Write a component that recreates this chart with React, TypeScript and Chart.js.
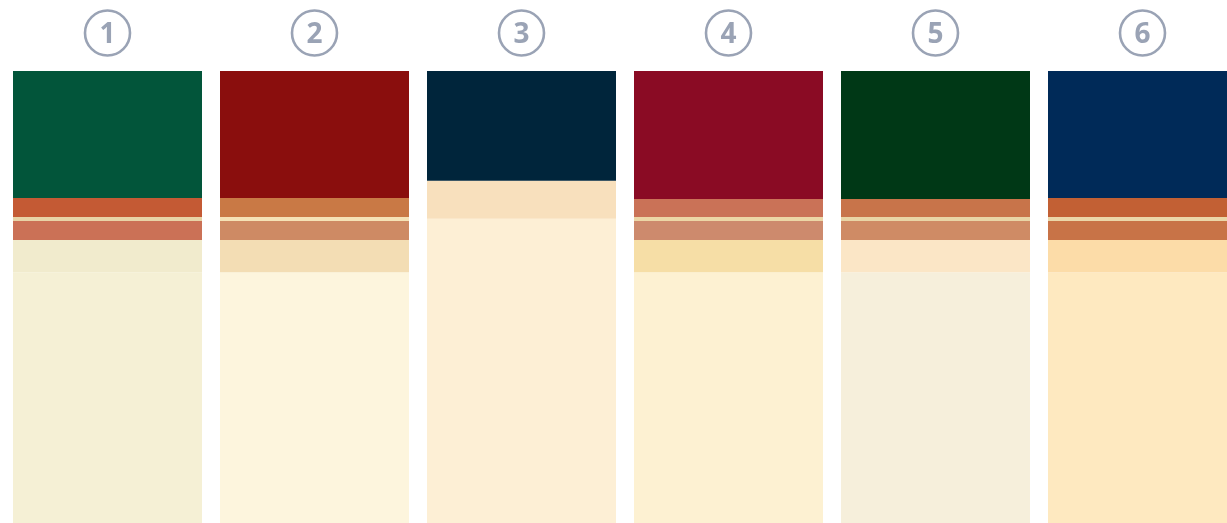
import React, { useEffect, useRef } from "react";
import { Chart, registerables } from "chart.js";

Chart.register(...registerables);

const categories = ["1", "2", "3", "4", "5", "6"];

// segment sizes (percent of column height), stacked from top to bottom
const darkTone = [28.1, 28.1, 24.3, 28.3, 28.3, 28.1];
const accent = [4.2, 4.2, 8.4, 4.0, 4.0, 4.2];
const divider = [0.9, 0.9, 0, 0.9, 0.9, 0.9];
const secondary = [4.2, 4.2, 0, 4.2, 4.2, 4.2];
const light = [7.1, 7.1, 0, 7.1, 7.1, 7.1];
const base = [55.5, 55.5, 67.3, 55.5, 55.5, 55.5];

const darkColors = ["#02553a", "#8a0e0d", "#00253b", "#8a0b24", "#003816", "#002a58"];
const accentColors = ["#c45a34", "#c97945", "#f8e0bd", "#ca7257", "#c8744a", "#c26034"];
const dividerColors = ["#e8d3a6", "#f5e2b6", "#f5e2b6", "#ecd6a6", "#e9d5a6", "#ebd6a8"];
const secondaryColors = ["#cb7156", "#ce8a64", "#ce8a64", "#cd8a6d", "#cf8b65", "#c87347"];
const lightColors = ["#f1ebcd", "#f3ddb4", "#f3ddb4", "#f6dea6", "#fbe6c6", "#fcdca8"];
const baseColors = ["#f5f0d5", "#fdf5dd", "#fdefd5", "#fdf1d2", "#f6efdb", "#fee9c0"];

const labelColor = "#9aa3b5";

const circledLabels = {
  id: "circledLabels",
  afterDraw(chart: any) {
    const { ctx } = chart;
    const xScale = chart.scales.x;
    ctx.save();
    categories.forEach((c, i) => {
      const x = xScale.getPixelForValue(i);
      ctx.beginPath();
      ctx.arc(x, 33, 22.5, 0, Math.PI * 2);
      ctx.strokeStyle = labelColor;
      ctx.lineWidth = 2.6;
      ctx.stroke();
      ctx.fillStyle = labelColor;
      ctx.font = "bold 28px 'Open Sans', sans-serif";
      ctx.textAlign = "center";
      ctx.textBaseline = "alphabetic";
      ctx.fillText(c, x, 43);
    });
    ctx.restore();
  },
};

export default function App() {
  const ref = useRef<HTMLCanvasElement | null>(null);
  useEffect(() => {
    if (!ref.current) return;
    const mk = (label: string, data: number[], colors: string[]) => ({
      label,
      data,
      backgroundColor: colors,
      borderWidth: 0,
      barPercentage: 1,
      categoryPercentage: 189 / 207,
    });
    const chart = new Chart(ref.current, {
      type: "bar",
      data: {
        labels: categories,
        datasets: [
          mk("dark", darkTone, darkColors),
          mk("accent", accent, accentColors),
          mk("divider", divider, dividerColors),
          mk("secondary", secondary, secondaryColors),
          mk("light", light, lightColors),
          mk("base", base, baseColors),
        ],
      },
      options: {
        animation: false,
        responsive: true,
        maintainAspectRatio: false,
        layout: { padding: 0 },
        plugins: { legend: { display: false }, tooltip: { enabled: false } },
        scales: {
          x: {
            stacked: true,
            position: "top",
            grid: { display: false },
            border: { display: false },
            ticks: { display: false },
            afterFit: (scale: any) => {
              scale.height = 71;
            },
          },
          y: {
            stacked: true,
            display: false,
            reverse: true,
            min: 0,
            max: 100,
          },
        },
      },
      plugins: [circledLabels],
    });
    return () => chart.destroy();
  }, []);
  return (
    <div
      style={{
        position: "fixed",
        left: 0,
        top: 0,
        width: 1227,
        height: 523,
        overflow: "hidden",
        background: "#ffffff",
      }}
    >
      <div style={{ position: "absolute", left: 4, top: 0, width: 1242, height: 523 }}>
        <canvas ref={ref} />
      </div>
    </div>
  );
}
